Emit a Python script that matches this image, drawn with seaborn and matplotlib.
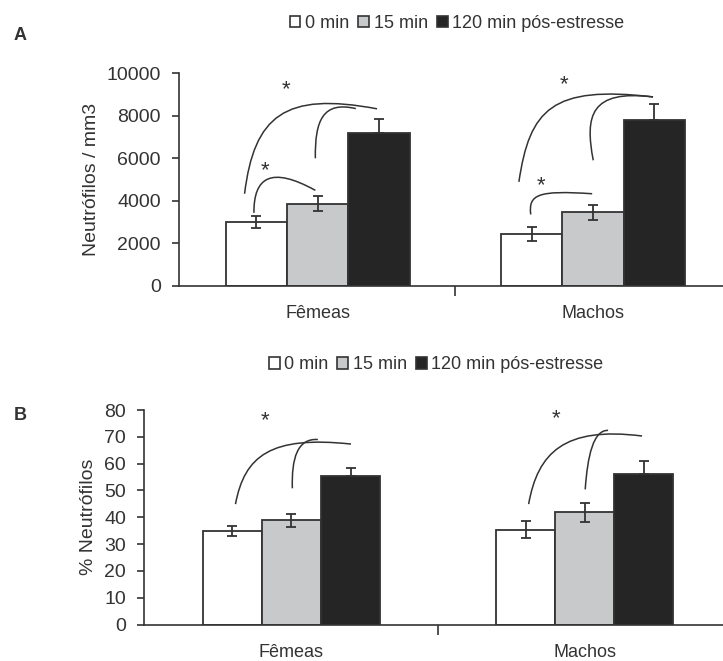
import numpy as np
import pandas as pd
import matplotlib
matplotlib.use("Agg")
import matplotlib.pyplot as plt
import matplotlib.patches as mpatches
from matplotlib.path import Path
import seaborn as sns

# categorias
sexos = ["Fêmeas", "Machos"]
tempos = ["0 min", "15 min", "120 min pós-estresse"]

# painel A: neutrófilos / mm3 (média e erro)
abs_femeas = [3000, 3870, 7200]
abs_machos = [2440, 3450, 7790]
abs_erro_femeas = [260, 340, 650]
abs_erro_machos = [320, 360, 760]

# painel B: % neutrófilos
pct_femeas = [34.9, 38.9, 55.3]
pct_machos = [35.4, 41.9, 56.0]
pct_erro_femeas = [1.8, 2.5, 3.1]
pct_erro_machos = [3.3, 3.5, 5.0]

# curvas de significância (pontos de controle bezier, em coordenadas dos dados)
curvas_a = [
    [(-0.265, 4330), (-0.23, 8000), (-0.12, 9150), (0.216, 8330)],
    [(-0.008, 6000), (-0.01, 7800), (0.02, 8700), (0.139, 8340)],
    [(-0.231, 3430), (-0.232, 5100), (-0.17, 5650), (-0.008, 4490)],
    [(0.731, 4890), (0.77, 8300), (0.85, 9450), (1.218, 8890)],
    [(1.001, 5905), (0.97, 8000), (0.99, 9250), (1.218, 8890)],
    [(0.774, 3354), (0.765, 4300), (0.80, 4500), (0.997, 4330)],
]
estrelas_a = [(-0.114, 9210), (-0.189, 5400), (0.894, 9460), (0.812, 4690)]

curvas_b = [
    [(-0.191, 44.9), (-0.16, 63), (-0.07, 70.5), (0.203, 67.3)],
    [(0.003, 50.8), (0.0, 62), (0.02, 69.5), (0.09, 69.0)],
    [(0.809, 44.9), (0.84, 64), (0.93, 74), (1.196, 70.3)],
    [(1.002, 50.4), (1.01, 63), (1.03, 72.6), (1.08, 72.4)],
]
estrelas_b = [(-0.091, 76.2), (0.903, 76.9)]

cores = ["#ffffff", "#c8c9cb", "#252525"]
escuro = "#333333"

sns.set_style("ticks")
plt.rcParams["font.family"] = ["Liberation Sans", "DejaVu Sans"]
plt.rcParams["text.color"] = escuro


def painel(ax, fem, mac, err_f, err_m, largura, ymax, passo, ylabel, label_x,
           curvas, estrelas):
    df = pd.DataFrame({
        "sexo": [s for s in sexos for _ in tempos],
        "tempo": tempos * 2,
        "valor": list(fem) + list(mac),
    })
    sns.barplot(data=df, x="sexo", y="valor", hue="tempo", order=sexos,
                hue_order=tempos, palette=cores, edgecolor=escuro,
                linewidth=1.3, width=largura, errorbar=None, legend=False,
                ax=ax)
    barras = list(ax.containers)
    for i, cont in enumerate(barras):
        xs = [b.get_x() + b.get_width() / 2 for b in cont]
        ys = [b.get_height() for b in cont]
        sup = [err_f[i], err_m[i]]
        # a parte de baixo some dentro da barra preta
        inf = [0, 0] if i == len(barras) - 1 else sup
        ax.errorbar(xs, ys, yerr=[inf, sup], fmt="none",
                    ecolor=escuro, elinewidth=1.3, capsize=3.75,
                    capthick=1.3, zorder=5)

    for pts in curvas:
        path = Path(pts, [Path.MOVETO, Path.CURVE4, Path.CURVE4, Path.CURVE4])
        ax.add_patch(mpatches.PathPatch(path, fill=False, lw=1.1,
                                        edgecolor=escuro, zorder=6))
    for x, y in estrelas:
        ax.text(x, y, "*", ha="center", va="center", fontsize=16,
                color=escuro)

    ax.set_ylim(0, ymax)
    ax.set_yticks(np.arange(0, ymax + 1, passo))
    ax.set_xlim(-0.503, 1.472)
    ax.set_xticks([0.5])
    ax.set_xticklabels([""])
    ax.set_xticks([0, 1], minor=True)
    ax.set_xticklabels(sexos, minor=True, fontsize=13)
    ax.tick_params(axis="x", which="major", length=7, width=1.2,
                   color=escuro)
    ax.tick_params(axis="x", which="minor", length=0, pad=14,
                   labelcolor=escuro)
    ax.tick_params(axis="y", length=5, width=1.2, pad=8, labelsize=14,
                   color=escuro, labelcolor=escuro)
    ax.set_xlabel("")
    ax.set_ylabel(ylabel, fontsize=14, color=escuro)
    ax.yaxis.set_label_coords(label_x, 0.5)
    for lado in ["top", "right"]:
        ax.spines[lado].set_visible(False)
    for lado in ["left", "bottom"]:
        ax.spines[lado].set_color(escuro)
        ax.spines[lado].set_linewidth(1.2)


fig = plt.figure(figsize=(7.23, 6.61), dpi=100)
ax_a = fig.add_axes([0.2476, 0.5678, 0.7524, 0.3212])
ax_b = fig.add_axes([0.1992, 0.0552, 0.8008, 0.3245])

painel(ax_a, abs_femeas, abs_machos, abs_erro_femeas, abs_erro_machos,
       0.668, 10000, 2000, "Neutrófilos / mm3", -0.145, curvas_a, estrelas_a)
painel(ax_b, pct_femeas, pct_machos, pct_erro_femeas, pct_erro_machos,
       0.605, 80, 10, "% Neutrófilos", -0.082, curvas_b, estrelas_b)

handles = [mpatches.Patch(facecolor=c, edgecolor=escuro, lw=1.2) for c in cores]
for pos in [(0.632, 0.965), (0.603, 0.448)]:
    fig.legend(handles, tempos, loc="center", bbox_to_anchor=pos, ncol=3,
               frameon=False, fontsize=13, handlelength=0.6,
               handleheight=0.6, handletextpad=0.25, columnspacing=0.5)

fig.text(20 / 723, 1 - 36 / 661, "A", fontsize=13, fontweight="bold",
         ha="center", va="center", color=escuro)
fig.text(20 / 723, 1 - 415 / 661, "B", fontsize=13, fontweight="bold",
         ha="center", va="center", color=escuro)

fig.savefig("out.png", dpi=100, facecolor="white")
